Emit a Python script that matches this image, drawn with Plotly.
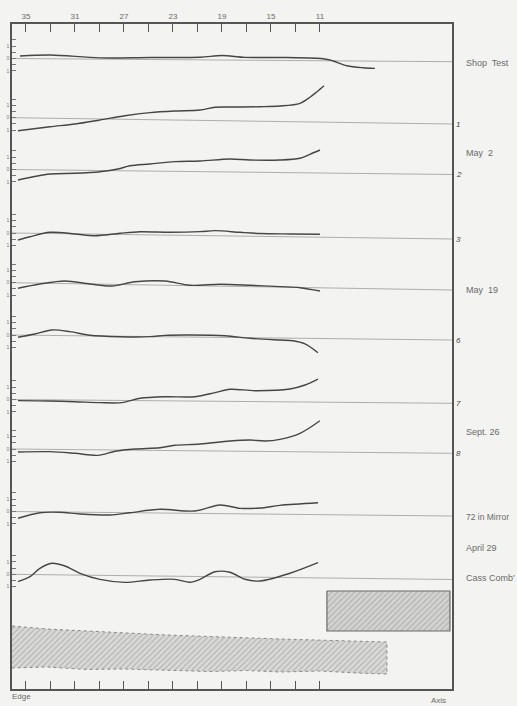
import plotly.graph_objects as go

# ---------------- data (x in inches from the axis, deviations in chart units, up = +) -------------
X_TICKS = [35, 33, 31, 29, 27, 25, 23, 21, 19, 17, 15, 13, 11]
X_TICK_LABELS = ["35", "", "31", "", "27", "", "23", "", "19", "", "15", "", "11"]

SHOP_X = [35.49, 33.04, 28.96, 24.88, 20.80, 19.00, 17.12, 14.27, 11.24, 10.18, 8.80, 7.49, 6.51]
SHOP_D = [2.5, 3.8, 1.3, 2.0, 2.6, 4.5, 2.8, 3.0, 2.4, 0.8, -4.8, -6.7, -7.2]

C1_X = [35.65, 33.04, 31.00, 28.96, 26.92, 24.88, 22.84, 20.80, 19.57, 18.35, 15.90, 14.27, 12.63, 11.82, 11.24, 10.67]
C1_D = [-12.9, -8.5, -5.4, -1.0, 3.6, 7.0, 9.0, 10.4, 13.3, 13.8, 14.5, 15.5, 18.5, 24.7, 30.4, 36.5]

C2_X = [35.65, 33.04, 31.00, 28.96, 27.49, 26.51, 24.88, 22.84, 20.80, 18.35, 16.71, 14.27, 12.63, 11.82, 11.00]
C2_D = [-10.4, -4.1, -3.1, -1.2, 1.7, 5.1, 7.1, 9.7, 10.6, 13.0, 12.2, 12.5, 14.5, 18.6, 23.0]

C3_X = [35.65, 34.67, 33.04, 31.00, 29.37, 27.33, 25.69, 23.24, 20.80, 19.57, 17.53, 15.90, 13.45, 11.00]
C3_D = [-6.9, -3.5, 1.2, -0.1, -1.6, 1.2, 3.0, 2.9, 3.9, 5.1, 3.8, 2.9, 2.8, 2.9]

C5_X = [35.65, 33.86, 31.82, 29.78, 27.98, 26.10, 23.65, 21.61, 19.16, 16.71, 14.27, 12.63, 11.00]
C5_D = [-5.5, -0.8, 2.6, 0.0, -1.6, 3.0, 4.2, 0.4, 1.9, 1.4, 0.5, -0.2, -3.2]

C6_X = [35.65, 34.27, 32.88, 31.41, 29.78, 27.33, 24.88, 23.65, 21.61, 18.76, 16.71, 14.27, 13.20, 12.22, 11.16]
C6_D = [-2.2, 1.3, 5.5, 4.0, 0.6, -0.5, -0.1, 1.4, 2.0, 1.7, -0.6, -2.0, -2.5, -5.5, -14.2]

C7_X = [35.65, 33.04, 31.00, 28.96, 27.16, 25.69, 23.65, 21.20, 19.57, 18.35, 16.31, 13.45, 12.22, 11.16]
C7_D = [-1.1, -1.2, -1.7, -2.4, -2.2, 2.3, 4.1, 4.4, 8.6, 12.1, 10.9, 12.9, 17.0, 23.1]

C8_X = [35.65, 33.04, 31.00, 29.12, 27.73, 26.10, 24.06, 22.84, 20.80, 18.35, 16.71, 15.49, 14.27, 12.63, 11.00]
C8_D = [-2.9, -2.3, -3.7, -5.5, -1.3, 1.2, 2.7, 5.3, 6.8, 10.1, 11.3, 10.5, 12.3, 18.5, 31.3]

C9_X = [35.65, 33.86, 32.22, 30.59, 28.14, 26.51, 24.06, 21.20, 19.16, 17.53, 15.90, 14.27, 11.16]
C9_D = [-6.7, -0.9, -0.3, -1.8, -2.5, 0.0, 3.7, 2.4, 8.6, 5.5, 6.0, 8.9, 11.9]

CASS_X = [35.65, 34.67, 33.86, 32.88, 31.82, 30.59, 28.96, 26.92, 24.88, 22.84, 21.61, 20.80, 19.57, 18.35, 17.12, 15.90, 13.45, 11.16]
CASS_D = [-7.3, -2.2, 6.3, 11.5, 8.9, 1.8, -4.0, -6.7, -4.1, -3.1, -5.9, -2.8, 5.0, 4.6, -2.2, -3.8, 4.3, 15.2]

# hatched zones (inches, chart units)
BLOCK_X = [10.43, 0.39, 0.39, 10.43, 10.43]
BLOCK_Y = [98, 98, 58, 58, 98]
BAND_TOP_X = [36.14, 33.3, 23.5, 14.27, 5.53]
BAND_TOP_Y = [63, 60, 54, 50, 47]
BAND_BOT_X = [5.53, 8.0, 11.0, 14.27, 17.0, 20.0, 23.5, 27.0, 30.0, 33.3, 36.14]
BAND_BOT_Y = [15, 16, 18, 17, 18.5, 17.5, 19, 20, 19.5, 22, 21]

# ---------------- layout constants ----------------
X_LEFT, X_RIGHT = 36.14, 0.22
Y_MAX = 665
CURVE_COLOR = "#464646"
REF_COLOR = "#9c9c9c"
TEXT_COLOR = "#6a6a6a"
BG = "#f3f3f1"
FONT = "Liberation Sans, Arial, sans-serif"

# (x, dev, baseline at left, baseline at right, right number)
CURVES = [
    (SHOP_X, SHOP_D, 630.5, 627.3, None),
    (C1_X, C1_D, 571.3, 565.0, "1"),
    (C2_X, C2_D, 519.5, 514.5, "2"),
    (C3_X, C3_D, 456.0, 450.0, "3"),
    (C5_X, C5_D, 406.3, 399.0, None),
    (C6_X, C6_D, 354.0, 349.0, "6"),
    (C7_X, C7_D, 289.5, 285.7, "7"),
    (C8_X, C8_D, 240.0, 235.7, "8"),
    (C9_X, C9_D, 177.5, 173.0, None),
    (CASS_X, CASS_D, 114.7, 109.5, None),
]

SIDE_LABELS = [
    ("Shop  Test", 626, 9), ("May  2", 536, 9), ("May  19", 399, 9), ("Sept. 26", 257, 9),
    ("72 in Mirror", 172, 8.5), ("April 29", 141, 9), ("Cass Comb'", 111, 9),
]


def base_at(x, yl, yr):
    return yl + (yr - yl) * (X_LEFT - x) / (X_LEFT - X_RIGHT)


fig = go.Figure()

# hatched zones
fig.add_trace(go.Scatter(
    x=BAND_TOP_X + BAND_BOT_X, y=BAND_TOP_Y + BAND_BOT_Y, mode="lines",
    fill="toself", fillcolor="#d9d9d7",
    fillpattern=dict(shape="/", fgcolor="#8f8f8f", bgcolor="#dadad8", size=4, solidity=0.3),
    line=dict(color="#8a8a8a", width=1, dash="dot"), hoverinfo="skip"))
fig.add_trace(go.Scatter(
    x=BLOCK_X, y=BLOCK_Y, mode="lines", fill="toself", fillcolor="#d6d6d4",
    fillpattern=dict(shape="/", fgcolor="#8f8f8f", bgcolor="#d4d4d2", size=4, solidity=0.3),
    line=dict(color="#6a6a6a", width=1.2), hoverinfo="skip"))

tickvals, ticktext = [], []
annotations = []
for xs, ds, yl, yr, num in CURVES:
    # reference line
    fig.add_trace(go.Scatter(x=[X_LEFT, X_RIGHT], y=[yl, yr], mode="lines",
                             line=dict(color=REF_COLOR, width=0.8), hoverinfo="skip"))
    ys = [base_at(x, yl, yr) + d for x, d in zip(xs, ds)]
    fig.add_trace(go.Scatter(x=xs, y=ys, mode="lines",
                             line=dict(color=CURVE_COLOR, width=1.4, shape="spline", smoothing=0.9),
                             hoverinfo="skip"))
    for k in (-2, -1, 0, 1, 2, 3):
        tickvals.append(yl + k * 6.2)
        ticktext.append({-2: "1", 0: "0", 2: "1"}.get(k, ""))
    if num:
        annotations.append(dict(xref="paper", yref="y", x=1.004, y=yr, text="<i>" + num + "</i>",
                                showarrow=False, xanchor="left", yanchor="middle",
                                font=dict(size=8, color="#444", family=FONT)))

for txt, yv, fs in SIDE_LABELS:
    annotations.append(dict(xref="paper", yref="y", x=1.027, y=yv, text=txt, showarrow=False,
                            xanchor="left", yanchor="middle",
                            font=dict(size=fs, color=TEXT_COLOR, family=FONT)))

annotations.append(dict(xref="paper", yref="paper", x=-0.004, y=-0.012, text="Edge", showarrow=False,
                        xanchor="left", yanchor="middle", font=dict(size=8, color=TEXT_COLOR, family=FONT)))
annotations.append(dict(xref="paper", yref="paper", x=0.99, y=-0.018, text="Axis", showarrow=False,
                        xanchor="right", yanchor="middle", font=dict(size=8, color=TEXT_COLOR, family=FONT)))

fig.update_layout(
    width=517, height=706, margin=dict(l=12, r=65, t=24, b=17),
    paper_bgcolor=BG, plot_bgcolor=BG, showlegend=False,
    font=dict(family=FONT, color=TEXT_COLOR),
    annotations=annotations,
    xaxis=dict(range=[X_LEFT, X_RIGHT], side="top", tickvals=X_TICKS, ticktext=X_TICK_LABELS,
               ticks="inside", ticklen=8, tickwidth=1, tickcolor="#555", showline=True,
               linecolor="#555", linewidth=1.5, mirror="ticks", showgrid=False, zeroline=False,
               tickfont=dict(size=8, color=TEXT_COLOR), automargin=False),
    yaxis=dict(range=[0, Y_MAX], tickvals=tickvals, ticktext=ticktext, ticks="inside",
               ticklen=4, tickwidth=0.8, tickcolor="#777", showline=True, linecolor="#555",
               linewidth=1.5, mirror=True, showgrid=False, zeroline=False,
               tickfont=dict(size=5, color="#777"), automargin=False),
)

fig.write_html("out.html", config={"displayModeBar": False},
               post_script="document.body.style.margin='0';")
